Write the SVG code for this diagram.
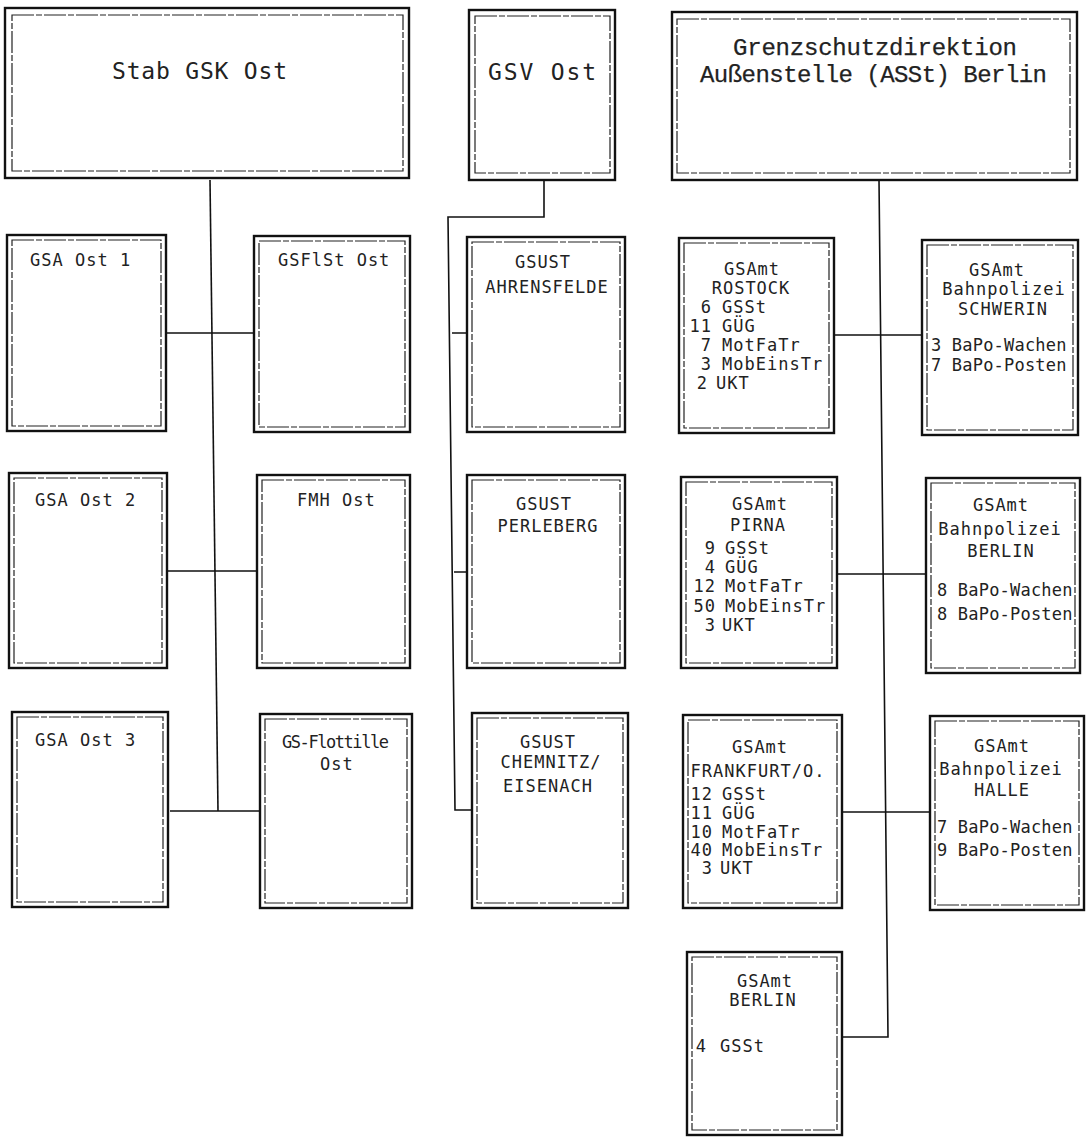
<svg xmlns="http://www.w3.org/2000/svg" width="1086" height="1139" viewBox="0 0 1086 1139">
<style>
.o{fill:#fff;stroke:#111;stroke-width:2.4}
.i{fill:none;stroke:#222;stroke-width:1.2;stroke-dasharray:22 2 6 2}
.c{fill:none;stroke:#111;stroke-width:1.6}
text{font-family:"DejaVu Sans Mono","Liberation Mono",monospace;fill:#222}
.s{font-size:17px;letter-spacing:1px}
.b{font-size:17px;letter-spacing:0.2px}
.m{text-anchor:middle}
.e{text-anchor:end}
.T{font-size:23px}
.U{font-family:"Liberation Mono","DejaVu Sans Mono",monospace;font-size:24px;stroke:#222;stroke-width:0.25}
</style>
<rect width="1086" height="1139" fill="#fff"/>
<g id="connectors">
<path class="c" d="M210,180 L218,811"/>
<path class="c" d="M166,333 H254 M167,571 H257 M170,811 H260"/>
<path class="c" d="M544,180 V217 H448 L455,810 H472 M452,333 H467 M454,572 H467"/>
<path class="c" d="M879,180 L888,1037 H842 M834,335 H922 M837,574 H926 M842,812 H930"/>
</g>
<g id="stab">
<rect class="o" x="5" y="8" width="404" height="170"/>
<rect class="i" x="12" y="15" width="391" height="156"/>
<text class="T" x="112" y="79" textLength="175" lengthAdjust="spacing">Stab GSK Ost</text>
</g>
<g id="gsv">
<rect class="o" x="469" y="10" width="146" height="170"/>
<rect class="i" x="475" y="16" width="135" height="157"/>
<text class="T" x="488" y="80" textLength="108" lengthAdjust="spacing">GSV Ost</text>
</g>
<g id="gsd">
<rect class="o" x="672" y="12" width="405" height="168"/>
<rect class="i" x="677" y="19" width="393" height="154"/>
<text class="U" x="733" y="55" textLength="284" lengthAdjust="spacing">Grenzschutzdirektion</text>
<text class="U" x="700" y="82" textLength="347" lengthAdjust="spacing">Außenstelle (ASSt) Berlin</text>
</g>
<g id="gsa1">
<rect class="o" x="7" y="235" width="159" height="196"/>
<rect class="i" x="12" y="240" width="149" height="186"/>
<text class="s" x="30" y="266">GSA Ost 1</text>
</g>
<g id="gsa2">
<rect class="o" x="9" y="473" width="158" height="195"/>
<rect class="i" x="14" y="478" width="148" height="185"/>
<text class="s" x="35" y="506">GSA Ost 2</text>
</g>
<g id="gsa3">
<rect class="o" x="12" y="712" width="156" height="195"/>
<rect class="i" x="17" y="717" width="146" height="185"/>
<text class="s" x="35" y="746">GSA Ost 3</text>
</g>
<g id="gsflst">
<rect class="o" x="254" y="236" width="156" height="196"/>
<rect class="i" x="259" y="241" width="146" height="186"/>
<text class="s" x="278" y="266">GSFlSt Ost</text>
</g>
<g id="fmh">
<rect class="o" x="257" y="475" width="153" height="193"/>
<rect class="i" x="262" y="480" width="143" height="183"/>
<text class="s" x="297" y="506">FMH Ost</text>
</g>
<g id="flottille">
<rect class="o" x="260" y="714" width="152" height="194"/>
<rect class="i" x="265" y="719" width="142" height="184"/>
<text class="s" x="282" y="748" textLength="108" lengthAdjust="spacing">GS-Flottille</text>
<text class="s" x="320" y="770">Ost</text>
</g>
<g id="gsust1">
<rect class="o" x="467" y="237" width="158" height="195"/>
<rect class="i" x="472" y="242" width="148" height="185"/>
<text class="s m" x="543" y="268">GSUST</text>
<text class="s m" x="547" y="293">AHRENSFELDE</text>
</g>
<g id="gsust2">
<rect class="o" x="467" y="475" width="158" height="193"/>
<rect class="i" x="472" y="480" width="148" height="183"/>
<text class="s m" x="544" y="510">GSUST</text>
<text class="s m" x="548" y="532">PERLEBERG</text>
</g>
<g id="gsust3">
<rect class="o" x="472" y="713" width="156" height="195"/>
<rect class="i" x="477" y="718" width="146" height="185"/>
<text class="s m" x="548" y="748">GSUST</text>
<text class="s m" x="551" y="768">CHEMNITZ/</text>
<text class="s m" x="548" y="792">EISENACH</text>
</g>
<g id="rostock">
<rect class="o" x="679" y="238" width="155" height="195"/>
<rect class="i" x="684" y="243" width="145" height="185"/>
<text class="s m" x="752" y="275">GSAmt</text>
<text class="s m" x="751" y="294">ROSTOCK</text>
<text class="s" y="313"><tspan class="e" x="712">6</tspan><tspan x="722">GSSt</tspan></text>
<text class="s" y="332"><tspan class="e" x="712">11</tspan><tspan x="722">GÜG</tspan></text>
<text class="s" y="351"><tspan class="e" x="712">7</tspan><tspan x="722">MotFaTr</tspan></text>
<text class="s" y="370"><tspan class="e" x="712">3</tspan><tspan x="722">MobEinsTr</tspan></text>
<text class="s" y="389"><tspan class="e" x="708">2</tspan><tspan x="716">UKT</tspan></text>
</g>
<g id="pirna">
<rect class="o" x="681" y="477" width="156" height="191"/>
<rect class="i" x="686" y="482" width="146" height="181"/>
<text class="s m" x="760" y="510">GSAmt</text>
<text class="s m" x="758" y="531">PIRNA</text>
<text class="s" y="554"><tspan class="e" x="716">9</tspan><tspan x="725">GSSt</tspan></text>
<text class="s" y="573"><tspan class="e" x="716">4</tspan><tspan x="725">GÜG</tspan></text>
<text class="s" y="592"><tspan class="e" x="716">12</tspan><tspan x="725">MotFaTr</tspan></text>
<text class="s" y="612"><tspan class="e" x="716">50</tspan><tspan x="725">MobEinsTr</tspan></text>
<text class="s" y="631"><tspan class="e" x="716">3</tspan><tspan x="722">UKT</tspan></text>
</g>
<g id="frankfurt">
<rect class="o" x="683" y="715" width="159" height="193"/>
<rect class="i" x="688" y="720" width="149" height="183"/>
<text class="s m" x="760" y="753">GSAmt</text>
<text class="s m" x="758" y="777">FRANKFURT/O.</text>
<text class="s" y="800"><tspan class="e" x="713">12</tspan><tspan x="722">GSSt</tspan></text>
<text class="s" y="819"><tspan class="e" x="713">11</tspan><tspan x="722">GÜG</tspan></text>
<text class="s" y="838"><tspan class="e" x="713">10</tspan><tspan x="722">MotFaTr</tspan></text>
<text class="s" y="856"><tspan class="e" x="713">40</tspan><tspan x="722">MobEinsTr</tspan></text>
<text class="s" y="874"><tspan class="e" x="713">3</tspan><tspan x="720">UKT</tspan></text>
</g>
<g id="berlin">
<rect class="o" x="687" y="952" width="155" height="183"/>
<rect class="i" x="692" y="957" width="145" height="173"/>
<text class="s m" x="765" y="987">GSAmt</text>
<text class="s m" x="763" y="1006">BERLIN</text>
<text class="s" y="1052"><tspan class="e" x="707">4</tspan><tspan x="720">GSSt</tspan></text>
</g>
<g id="bp-schwerin">
<rect class="o" x="922" y="240" width="156" height="195"/>
<rect class="i" x="927" y="245" width="146" height="185"/>
<text class="s m" x="997" y="276">GSAmt</text>
<text class="s m" x="1004" y="295">Bahnpolizei</text>
<text class="s m" x="1003" y="315">SCHWERIN</text>
<text class="b" x="931" y="351">3 BaPo-Wachen</text>
<text class="b" x="931" y="371">7 BaPo-Posten</text>
</g>
<g id="bp-berlin">
<rect class="o" x="926" y="478" width="154" height="195"/>
<rect class="i" x="931" y="483" width="144" height="185"/>
<text class="s m" x="1001" y="511">GSAmt</text>
<text class="s m" x="1000" y="535">Bahnpolizei</text>
<text class="s m" x="1001" y="557">BERLIN</text>
<text class="b" x="937" y="596">8 BaPo-Wachen</text>
<text class="b" x="937" y="620">8 BaPo-Posten</text>
</g>
<g id="bp-halle">
<rect class="o" x="930" y="716" width="154" height="194"/>
<rect class="i" x="935" y="721" width="144" height="184"/>
<text class="s m" x="1002" y="752">GSAmt</text>
<text class="s m" x="1001" y="775">Bahnpolizei</text>
<text class="s m" x="1002" y="796">HALLE</text>
<text class="b" x="937" y="833">7 BaPo-Wachen</text>
<text class="b" x="937" y="856">9 BaPo-Posten</text>
</g>
</svg>
